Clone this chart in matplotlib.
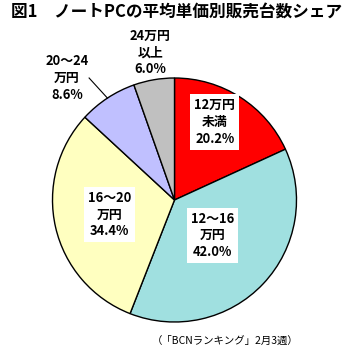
import numpy as np
import matplotlib
matplotlib.use("Agg")
import matplotlib.pyplot as plt

plt.rcParams['font.family'] = ['Noto Sans CJK JP', 'DejaVu Sans']

# share by average unit price band (%), clockwise from 12 o'clock
bands = ["12万円\n未満", "12～16\n万円", "16～20\n万円", "20～24\n万円", "24万円\n以上"]
shares = [20.2, 42.0, 34.4, 8.6, 6.0]
colors = ["#FF0000", "#A0E0E0", "#FFFFC0", "#C0C0FF", "#C0C0C0"]

title = "図1　ノートPCの平均単価別販売台数シェア"
source = "（「BCNランキング」2月3週）"

W, H, DPI = 350, 357, 100
fig = plt.figure(figsize=(W / DPI, H / DPI), dpi=DPI)

# pie centre / radius in pixels
cx, cy, r = 174.5, 200, 122
lim = 1.1
size = 2 * r * lim
ax = fig.add_axes([(cx - size / 2) / W, (H - cy - size / 2) / H, size / W, size / H])

wedges, _ = ax.pie(shares, colors=colors, startangle=90, counterclock=False,
                   radius=1.0, wedgeprops=dict(edgecolor="black", linewidth=1.0))
ax.set_xlim(-lim, lim)
ax.set_ylim(-lim, lim)
ax.set_aspect("equal")
ax.axis("off")

labels = [f"{b}\n{v:.1f}%" for b, v in zip(bands, shares)]
box = dict(boxstyle="square,pad=0.3", fc="white", ec="none")
txt = dict(ha="center", va="center", fontsize=9.3, fontweight="bold", linespacing=1.25)

# labels inside the big slices
ax.text(0.33, 0.64, labels[0], bbox=box, **txt)
ax.text(0.31, -0.29, labels[1], bbox=box, **txt)
ax.text(-0.53, -0.12, labels[2], bbox=box, **txt)

# small slices: labels outside, leader line from the middle text line
w = wedges[3]
mid = np.deg2rad((w.theta1 + w.theta2) / 2)
ax.text(-0.88, 1.0, labels[3], **txt)
ax.plot([-0.70, np.cos(mid)], [1.0, np.sin(mid)], color="black", lw=0.8,
        clip_on=False)
ax.text(-0.20, 1.21, labels[4], **txt)

fig.text(11 / W, 1 - 12 / H, title, ha="left", va="center",
         fontsize=12, fontweight="bold")
fig.text(225 / W, 1 - 341 / H, source, ha="center", va="center", fontsize=7.5)

fig.savefig("out.png", dpi=DPI)
